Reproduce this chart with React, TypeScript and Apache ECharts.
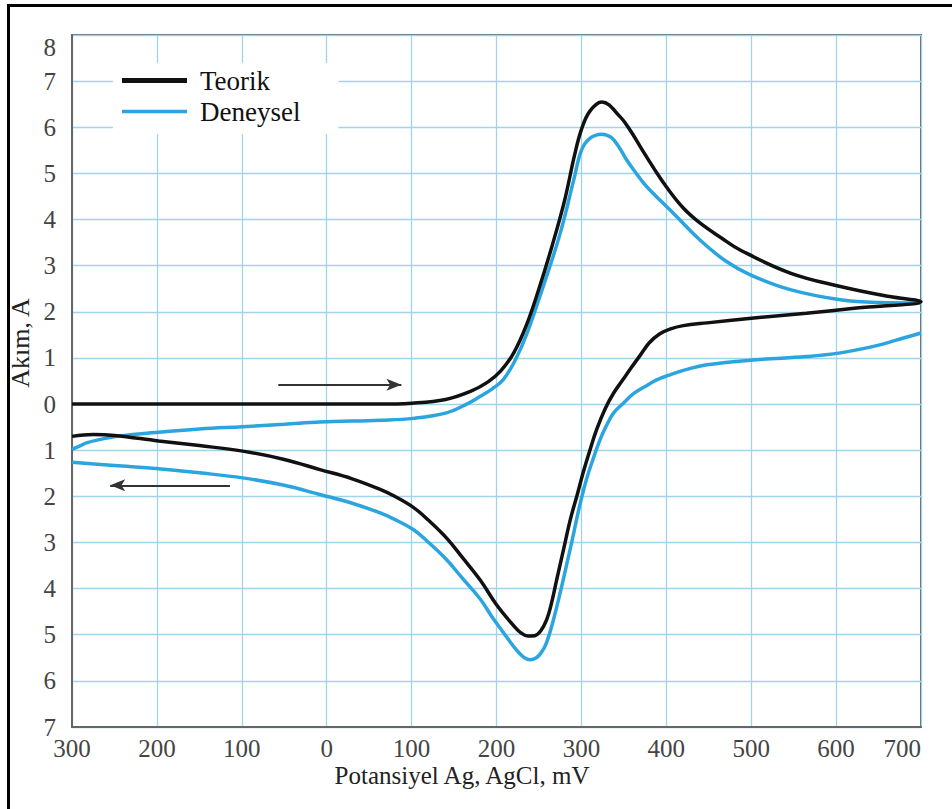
import React, { useEffect, useRef } from "react";
import * as echarts from "echarts";

// Potential (mV) and current (A)
const teorikForwardE = [-300, -200, -100, 0, 60, 100, 140, 170, 190, 205, 220, 235, 250, 265, 280, 292, 300, 310, 324, 346, 358, 370, 385, 400, 420, 440, 465, 487, 546, 605, 663, 700];
const teorikForwardI = [0, 0, 0, 0, 0, 0.02, 0.1, 0.28, 0.48, 0.72, 1.1, 1.7, 2.5, 3.4, 4.4, 5.4, 5.95, 6.35, 6.55, 6.22, 5.92, 5.56, 5.12, 4.71, 4.25, 3.92, 3.6, 3.34, 2.84, 2.55, 2.33, 2.22];
const teorikReverseE = [700, 624, 565, 506, 448, 420, 405, 392, 380, 369, 358, 349, 338, 328, 318, 310, 302, 295, 287, 279, 271, 265, 259, 252, 245, 237, 228, 220, 200, 181, 160, 141, 120, 102, 80, 63, 30, -8, -50, -99, -150, -198, -250, -275, -300];
const teorikReverseI = [2.22, 2.08, 1.97, 1.87, 1.76, 1.7, 1.63, 1.52, 1.33, 1.05, 0.77, 0.53, 0.24, -0.1, -0.55, -1.0, -1.49, -1.97, -2.5, -3.15, -3.8, -4.3, -4.68, -4.92, -5.02, -5.03, -4.95, -4.8, -4.35, -3.82, -3.33, -2.9, -2.52, -2.24, -2.0, -1.85, -1.62, -1.42, -1.2, -1.02, -0.9, -0.8, -0.68, -0.66, -0.7];

const deneyselForwardE = [-300, -290, -283, -265, -247, -198, -150, -99, -50, -8, 63, 102, 141, 165, 181, 195, 208, 222, 236, 255, 275, 291, 300, 310, 324, 335, 344, 353, 365, 377, 408, 440, 470, 499, 546, 605, 650, 700];
const deneyselForwardI = [-0.98, -0.9, -0.84, -0.76, -0.7, -0.61, -0.54, -0.49, -0.44, -0.39, -0.35, -0.31, -0.19, 0.0, 0.17, 0.33, 0.53, 0.95, 1.54, 2.55, 3.7, 4.86, 5.5, 5.76, 5.85, 5.78, 5.58, 5.3, 4.99, 4.71, 4.14, 3.55, 3.1, 2.8, 2.48, 2.26, 2.2, 2.19];
const deneyselReverseE = [700, 670, 644, 605, 565, 506, 448, 420, 402, 388, 375, 361, 350, 338, 330, 322, 314, 306, 298, 291, 283, 275, 267, 259, 253, 247, 240, 236, 228, 220, 208, 195, 181, 160, 141, 120, 102, 80, 63, 30, -8, -50, -99, -150, -198, -250, -300];
const deneyselReverseI = [1.54, 1.38, 1.25, 1.11, 1.03, 0.96, 0.85, 0.73, 0.62, 0.52, 0.38, 0.22, 0.03, -0.19, -0.45, -0.77, -1.18, -1.63, -2.2, -2.79, -3.45, -4.09, -4.68, -5.17, -5.38, -5.5, -5.54, -5.53, -5.42, -5.25, -4.95, -4.62, -4.23, -3.78, -3.37, -3.0, -2.72, -2.5, -2.36, -2.15, -1.96, -1.76, -1.6, -1.49, -1.4, -1.33, -1.26];

// Scan-direction arrows [startE, endE, I]
const forwardArrow = [-57, 88, 0.42];
const reverseArrow = [-114, -255, -1.76];

const seriesNames = ["Teorik", "Deneysel"];
const xTitle = "Potansiyel Ag, AgCl, mV";
const yTitle = "Akım, A";

const FONT = "'Liberation Serif', 'DejaVu Serif', serif";
const BLACK = "#111";
const BLUE = "#2aa5e0";

const zip = (e: number[], i: number[]) => e.map((v, k) => [v, i[k]]);

export default function App() {
  const ref = useRef<HTMLDivElement>(null);

  useEffect(() => {
    if (!ref.current) return;
    const chart = echarts.init(ref.current, null, { renderer: "svg" });

    const teorikData = [...zip(teorikForwardE, teorikForwardI), ...zip(teorikReverseE, teorikReverseI)];
    // '-' breaks the line between the two scan branches (no vertical join at 700 mV)
    const deneyselData = [...zip(deneyselForwardE, deneyselForwardI), "-", ...zip(deneyselReverseE, deneyselReverseI)];

    const gridColor = "#9fd4ec";
    const axisColor = "#666";

    chart.setOption({
      animation: false,
      backgroundColor: "#fff",
      grid: {
        left: 72,
        top: 35,
        right: 31,
        bottom: 82,
        containLabel: false,
        outerBoundsMode: "none",
        show: true,
        borderColor: axisColor,
        borderWidth: 2,
        backgroundColor: "#fff",
      },
      legend: {
        orient: "vertical",
        left: 113,
        top: 63,
        backgroundColor: "#fff",
        padding: [4, 38, 9, 9],
        itemWidth: 65,
        itemHeight: 14,
        itemGap: 4,
        selectedMode: false,
        textStyle: { fontFamily: FONT, fontSize: 27, color: BLACK, padding: [0, 0, 0, 8] },
        data: [
          { name: seriesNames[0], icon: "path://M0,0H65V5H0Z", itemStyle: { color: BLACK } },
          { name: seriesNames[1], icon: "path://M0,0H65V3.5H0Z", itemStyle: { color: BLUE } },
        ],
      },
      xAxis: {
        type: "value",
        min: -300,
        max: 700,
        interval: 100,
        axisLine: { show: true, onZero: false, lineStyle: { color: axisColor, width: 2 } },
        axisTick: { show: false },
        splitLine: { show: true, lineStyle: { color: gridColor, width: 1.3 } },
        axisLabel: {
          formatter: (v: number) => String(Math.abs(v)),
          fontFamily: FONT,
          fontSize: 25,
          color: "#444",
          margin: 9,
          alignMaxLabel: "right",
        },
      },
      yAxis: {
        type: "value",
        min: -7,
        max: 8,
        interval: 1,
        axisLine: { show: true, onZero: false, lineStyle: { color: axisColor, width: 2 } },
        axisTick: { show: false },
        splitLine: { show: true, lineStyle: { color: gridColor, width: 1.3 } },
        axisLabel: {
          formatter: (v: number) => String(Math.abs(v)),
          fontFamily: FONT,
          fontSize: 25,
          color: "#444",
          margin: 16,
          verticalAlignMaxLabel: "top",
        },
      },
      series: [
        {
          name: seriesNames[0],
          type: "line",
          data: teorikData,
          smooth: 0.4,
          symbol: "none",
          showSymbol: false,
          connectNulls: false,
          z: 3,
          lineStyle: { color: BLACK, width: 3.5 },
          itemStyle: { color: BLACK },
          markLine: {
            silent: true,
            symbol: ["none", "arrow"],
            symbolSize: [9, 15],
            label: { show: false },
            lineStyle: { color: "#333", width: 2, type: "solid" },
            data: [
              [{ coord: [forwardArrow[0], forwardArrow[2]] }, { coord: [forwardArrow[1], forwardArrow[2]] }],
              [{ coord: [reverseArrow[0], reverseArrow[2]] }, { coord: [reverseArrow[1], reverseArrow[2]] }],
            ],
          },
        },
        {
          name: seriesNames[1],
          type: "line",
          data: deneyselData,
          smooth: 0.4,
          symbol: "none",
          showSymbol: false,
          connectNulls: false,
          z: 2,
          lineStyle: { color: BLUE, width: 3.5 },
          itemStyle: { color: BLUE },
        },
      ],
      graphic: [
        {
          type: "rect",
          shape: { x: 8.5, y: 5.5, width: 970, height: 830 },
          style: { fill: "none", stroke: "#000", lineWidth: 3 },
          silent: true,
        },
        {
          type: "text",
          x: 20,
          y: 343,
          rotation: Math.PI / 2,
          style: {
            text: yTitle,
            fontFamily: FONT,
            fontSize: 26,
            fill: "#222",
            align: "center",
            verticalAlign: "middle",
          },
        },
        {
          type: "text",
          x: 462,
          y: 775,
          style: {
            text: xTitle,
            fontFamily: FONT,
            fontSize: 25,
            fill: "#222",
            align: "center",
            verticalAlign: "middle",
          },
        },
      ],
    });

    return () => chart.dispose();
  }, []);

  return (
    <div
      ref={ref}
      style={{ position: "absolute", left: 0, top: 0, width: 952, height: 809 }}
    />
  );
}
